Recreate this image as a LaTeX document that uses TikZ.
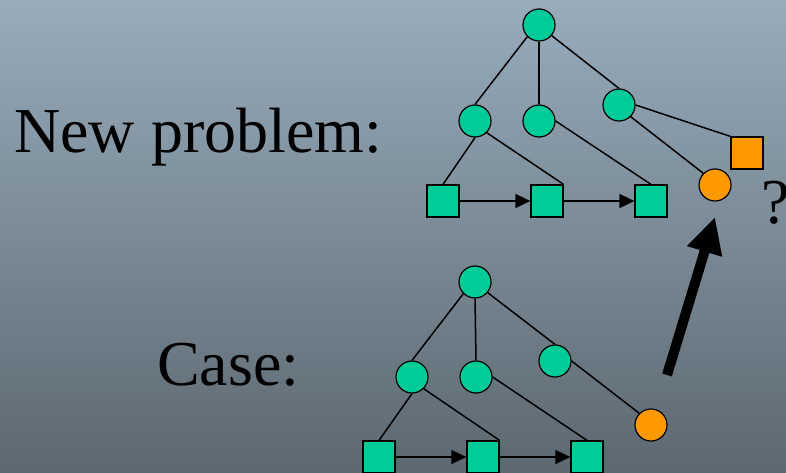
\documentclass[tikz,border=0pt]{standalone}
\usepackage{fontspec}
\setmainfont{Liberation Serif}
\usepackage{xcolor}
\usetikzlibrary{arrows.meta}

\definecolor{bgtop}{RGB}{152,172,187}
\definecolor{bgbot}{RGB}{92,104,113}
\definecolor{teal}{HTML}{00CC99}
\definecolor{amber}{HTML}{FF9900}

\begin{document}
\begin{tikzpicture}[
  x=1pt, y=-1pt,
  bigtext/.style={font=\fontsize{64}{72}\selectfont, inner sep=0pt, anchor=base west},
  goal/.style={circle, draw=black, line width=1.2pt, fill=teal, minimum size=32pt, inner sep=0pt},
  prim/.style={rectangle, draw=black, line width=1.2pt, fill=teal, minimum size=32pt, inner sep=0pt},
  hot/.style={fill=amber},
  link/.style={line width=1.5pt},
  order/.style={-{Triangle[length=15pt, width=14pt]}, line width=1.5pt},
  bigarrow/.style={-{Triangle[length=36pt, width=34pt]}, line width=10pt}
]

% ── Background ──────────────────────────────────────────────
\useasboundingbox (0,0) rectangle (786,473);
\clip (0,0) rectangle (786,473);
\shade[top color=bgtop, bottom color=bgbot] (0,0) rectangle (786,473);

% ── Labels ──────────────────────────────────────────────────
\node[bigtext] (newlbl) at (14,153) {New problem:};
\node[bigtext] (caselbl) at (157,385) {Case:};
\node[bigtext] (qmark) at (761,223) {?};

% ── New problem tree ────────────────────────────────────────
\node[goal] (nroot) at (539,25) {};
\node[goal] (nl) at (475,121) {};
\node[goal] (nm) at (539,121) {};
\node[goal] (nr) at (619,105) {};
\node[prim] (ns1) at (443,201) {};
\node[prim] (ns2) at (547,201) {};
\node[prim] (ns3) at (651,201) {};
\node[goal, hot] (ngoal) at (715,185) {};
\node[prim, hot] (nprim) at (747,153) {};

\draw[link] (nroot.-135) -- (nl.north);
\draw[link] (nroot.south) -- (nm.north);
\draw[link] (nroot.-40) -- (nr.north);
\draw[link] (nl.south) -- (ns1.north);
\draw[link] (nl.-45) -- (ns2.north east);
\draw[link] (nm.east) -- (ns3.north);
\draw[link] (nr.east) -- (nprim.north west);
\draw[link] (nr.-45) -- (ngoal.135);
\draw[order] (ns1.east) -- (ns2.west);
\draw[order] (ns2.east) -- (ns3.west);

% ── Case tree ───────────────────────────────────────────────
\node[goal] (croot) at (475,282) {};
\node[goal] (cl) at (412,377) {};
\node[goal] (cm) at (476,377) {};
\node[goal] (cr) at (555,361) {};
\node[prim] (cs1) at (379,457) {};
\node[prim] (cs2) at (483,457) {};
\node[prim] (cs3) at (587,457) {};
\node[goal, hot] (cgoal) at (651,425) {};

\draw[link] (croot.-135) -- (cl.north);
\draw[link] (croot.south) -- (cm.north);
\draw[link] (croot.-40) -- (cr.north);
\draw[link] (cl.south) -- (cs1.north);
\draw[link] (cl.-45) -- (cs2.north east);
\draw[link] (cm.east) -- (cs3.north);
\draw[link] (cr.east) -- (cgoal.135);
\draw[order] (cs1.east) -- (cs2.west);
\draw[order] (cs2.east) -- (cs3.west);

% ── Transfer arrow ──────────────────────────────────────────
\coordinate (lift) at (667,375);
\coordinate (aim) at (715,217);
\draw[bigarrow] (lift) -- (aim);

\end{tikzpicture}
\end{document}
